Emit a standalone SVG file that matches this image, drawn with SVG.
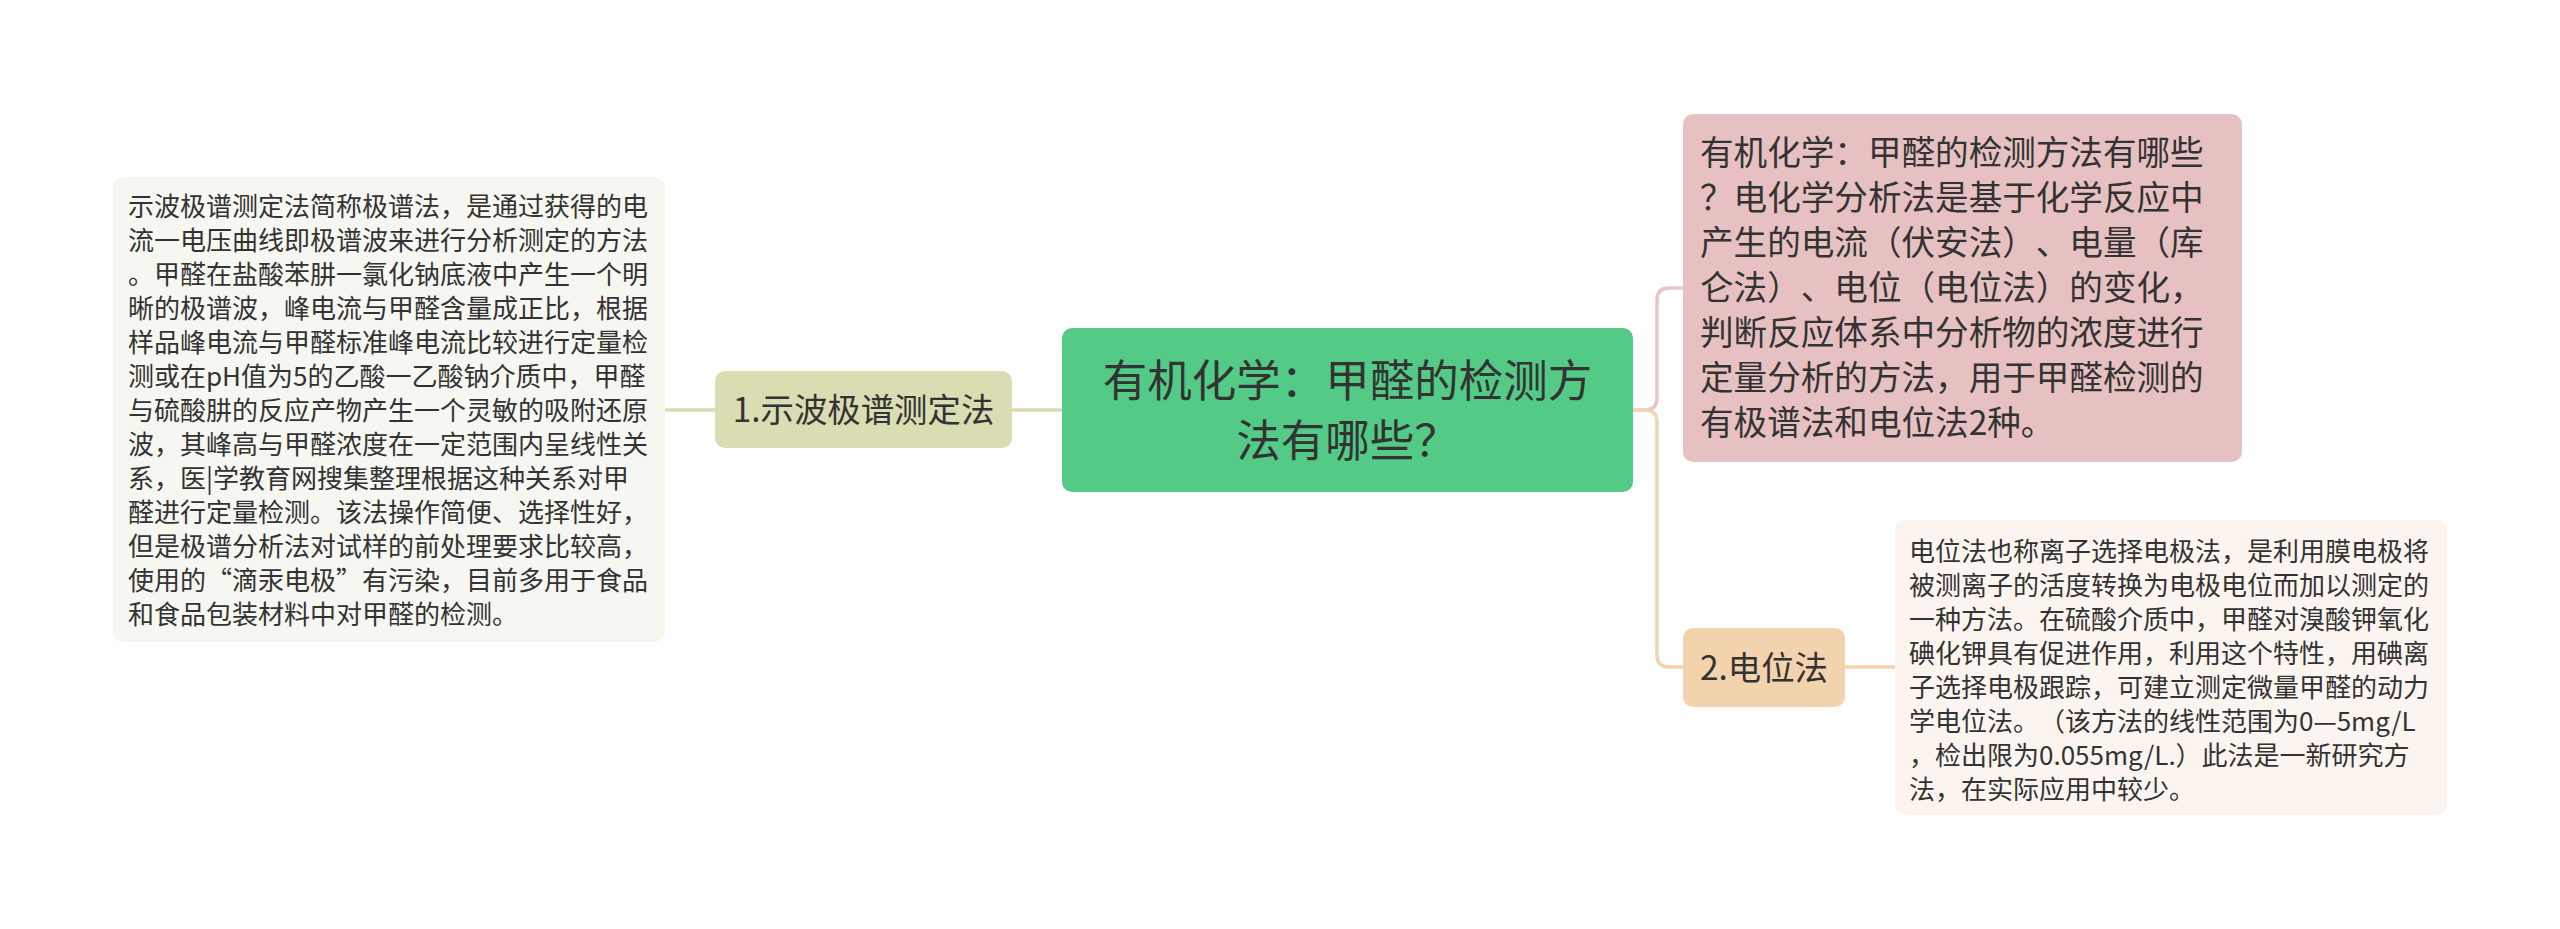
<svg xmlns="http://www.w3.org/2000/svg" width="2560" height="929" viewBox="0 0 2560 929">
<style>
text{font-family:"Noto Sans CJK SC","Liberation Sans",sans-serif;fill:#333333;text-spacing-trim:space-all;font-feature-settings:"chws" 0;}
.small{font-size:26px;}
.mid{font-size:33.6px;}
.title{font-size:44.5px;text-anchor:middle;}
.sub{font-size:33.4px;text-anchor:middle;}
.conn{fill:none;stroke-width:3.5;stroke-linecap:round;}
</style>
<rect width="2560" height="929" fill="#ffffff"/>
<g id="connectors">
<path class="conn" stroke="#d9dbb3" d="M665 410 H1062"/>
<path class="conn" stroke="#e8c6c6" d="M1633 410 H1645 Q1657 410 1657 398 V300 Q1657 288 1669 288 H1683"/>
<path class="conn" stroke="#f2d4b1" d="M1633 410 H1645 Q1657 410 1657 422 V655 Q1657 667 1669 667 H1683"/>
<path class="conn" stroke="#f2d4b1" d="M1845 667 H1895"/>
</g>
<g id="node-detail-left">
<rect x="113" y="177" width="552" height="465" rx="10" fill="#f6f7f0"/>
<text class="small" x="128" y="216">示波极谱测定法简称极谱法，是通过获得的电</text>
<text class="small" x="128" y="250">流一电压曲线即极谱波来进行分析测定的方法</text>
<text class="small" x="128" y="284">。甲醛在盐酸苯肼一氯化钠底液中产生一个明</text>
<text class="small" x="128" y="318">晰的极谱波，峰电流与甲醛含量成正比，根据</text>
<text class="small" x="128" y="352">样品峰电流与甲醛标准峰电流比较进行定量检</text>
<text class="small" x="128" y="386">测或在pH值为5的乙酸一乙酸钠介质中，甲醛</text>
<text class="small" x="128" y="420">与硫酸肼的反应产物产生一个灵敏的吸附还原</text>
<text class="small" x="128" y="454">波，其峰高与甲醛浓度在一定范围内呈线性关</text>
<text class="small" x="128" y="488">系，医|学教育网搜集整理根据这种关系对甲</text>
<text class="small" x="128" y="522">醛进行定量检测。该法操作简便、选择性好，</text>
<text class="small" x="128" y="556">但是极谱分析法对试样的前处理要求比较高，</text>
<text class="small" x="128" y="590">使用的“滴汞电极”有污染，目前多用于食品</text>
<text class="small" x="128" y="624">和食品包装材料中对甲醛的检测。</text>
</g>
<g id="node-sub1">
<rect x="715" y="371" width="297" height="77" rx="10" fill="#dadcb1"/>
<text class="sub" x="863.5" y="422">1.示波极谱测定法</text>
</g>
<g id="node-root">
<rect x="1062" y="328" width="571" height="164" rx="10" fill="#53cb86"/>
<text class="title" x="1347.5" y="397">有机化学：甲醛的检测方</text>
<text class="title" x="1347.5" y="457">法有哪些？</text>
</g>
<g id="node-detail-top-right">
<rect x="1683" y="114" width="559" height="348" rx="10" fill="#e7c1c1"/>
<text class="mid" x="1700" y="165">有机化学：甲醛的检测方法有哪些</text>
<text class="mid" x="1700" y="210">？电化学分析法是基于化学反应中</text>
<text class="mid" x="1700" y="255">产生的电流（伏安法）、电量（库</text>
<text class="mid" x="1700" y="300">仑法）、电位（电位法）的变化，</text>
<text class="mid" x="1700" y="345">判断反应体系中分析物的浓度进行</text>
<text class="mid" x="1700" y="390">定量分析的方法，用于甲醛检测的</text>
<text class="mid" x="1700" y="435">有极谱法和电位法2种。</text>
</g>
<g id="node-sub2">
<rect x="1683" y="628" width="162" height="79" rx="10" fill="#f2d3ae"/>
<text class="sub" x="1764" y="680">2.电位法</text>
</g>
<g id="node-detail-bottom-right">
<rect x="1895" y="520" width="552" height="295" rx="10" fill="#fcf5ef"/>
<text class="small" x="1909" y="561">电位法也称离子选择电极法，是利用膜电极将</text>
<text class="small" x="1909" y="595">被测离子的活度转换为电极电位而加以测定的</text>
<text class="small" x="1909" y="629">一种方法。在硫酸介质中，甲醛对溴酸钾氧化</text>
<text class="small" x="1909" y="663">碘化钾具有促进作用，利用这个特性，用碘离</text>
<text class="small" x="1909" y="697">子选择电极跟踪，可建立测定微量甲醛的动力</text>
<text class="small" x="1909" y="731">学电位法。（该方法的线性范围为0—5mg/L</text>
<text class="small" x="1909" y="765">，检出限为0.055mg/L.）此法是一新研究方</text>
<text class="small" x="1909" y="799">法，在实际应用中较少。</text>
</g>
</svg>
